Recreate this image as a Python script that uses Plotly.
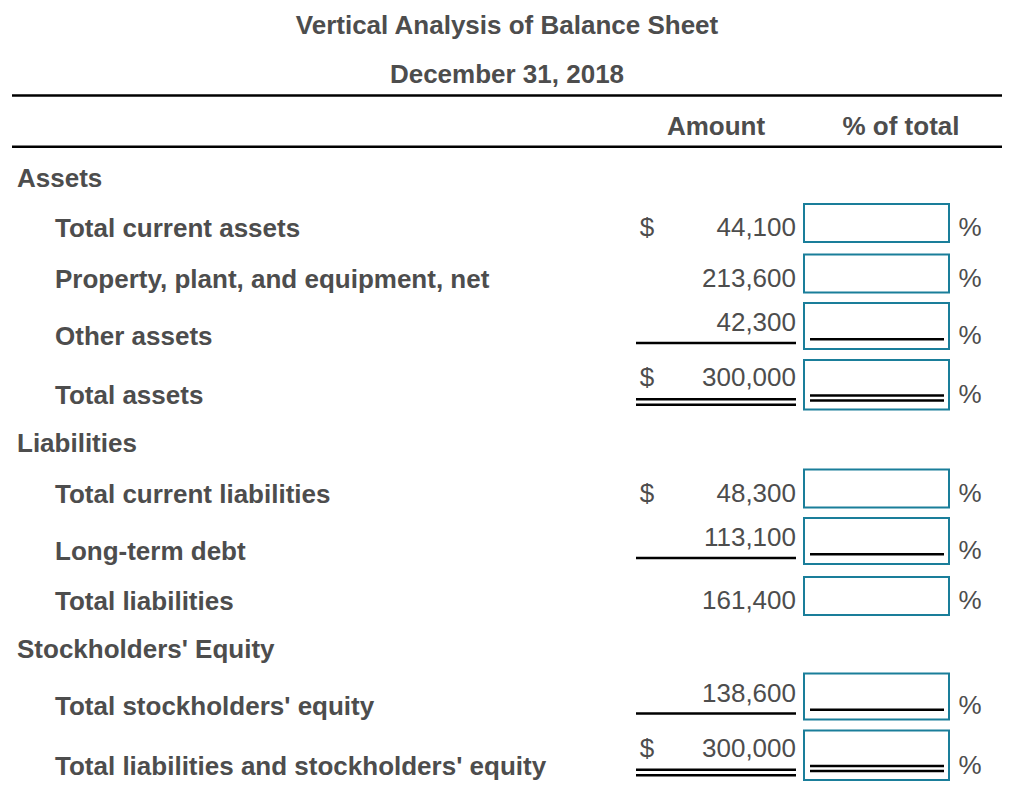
import plotly.graph_objects as go

# ---- data ----
title_lines = ["Vertical Analysis of Balance Sheet", "December 31, 2018"]
col_headers = ["Amount", "% of total"]

labels = [
    "Assets",
    "Total current assets",
    "Property, plant, and equipment, net",
    "Other assets",
    "Total assets",
    "Liabilities",
    "Total current liabilities",
    "Long-term debt",
    "Total liabilities",
    "Stockholders' Equity",
    "Total stockholders' equity",
    "Total liabilities and stockholders' equity",
]
amounts = [None, 44100, 213600, 42300, 300000, None, 48300, 113100, 161400, None, 138600, 300000]
dollar_sign = [False, True, False, False, True, False, True, False, False, False, False, True]
is_section = [True, False, False, False, False, True, False, False, False, True, False, False]
rules = ["", "", "", "single", "double", "", "", "single", "", "", "single", "double"]

# ---- layout / style ----
W, H = 1015, 811
FONT = "Liberation Sans, Arial, Helvetica, sans-serif"
INK = "#4d4d4d"
TEAL = "#1a7e9a"
FS = 26
TY = 2.5  # text baseline nudge

PITCH = {"section": 48, "": 50.5, "single": 57, "double": 59.5}
OFFS = {
    "": dict(amt=-1, box=(-24, 14), lines=[], inner=[]),
    "single": dict(amt=-13.5, box=(-32.5, 13.5), lines=[7.5], inner=[3.7]),
    "double": dict(amt=-18, box=(-35, 14.5), lines=[4.3, 9.8], inner=[0.5, 5.5]),
}

# row centres
ys = []
y = 177.5
for i in range(len(labels)):
    if i > 0:
        y += PITCH["section" if is_section[i] else rules[i]]
    ys.append(y)

fig = go.Figure()


def add_text(xs, yv, txt, pos, bold):
    fig.add_trace(go.Scatter(
        x=xs, y=[v + TY for v in yv], text=txt, mode="text", textposition=pos, cliponaxis=False,
        hoverinfo="skip", showlegend=False,
        textfont=dict(family=FONT, size=FS, color=INK, weight="bold" if bold else "normal"),
    ))


# title + headers
add_text([507, 507], [25, 73.7], title_lines, "middle center", True)
add_text([716, 901], [126, 126], col_headers, "middle center", True)

shapes = []
for yy in [95.5, 146.7]:
    shapes.append(dict(type="line", x0=12, x1=1002, y0=yy, y1=yy, line=dict(color="black", width=2.5)))

# labels
sec_y = [ys[i] for i in range(len(labels)) if is_section[i]]
sec_t = [labels[i] for i in range(len(labels)) if is_section[i]]
item_y = [ys[i] for i in range(len(labels)) if not is_section[i]]
item_t = [labels[i] for i in range(len(labels)) if not is_section[i]]
add_text([17] * len(sec_y), sec_y, sec_t, "middle right", True)
add_text([55] * len(item_y), item_y, item_t, "middle right", True)

amt_y, amt_t, dol_y, pct_y = [], [], [], []
for i, v in enumerate(amounts):
    if v is None:
        continue
    o = OFFS[rules[i]]
    ya = ys[i] + o["amt"]
    amt_y.append(ya)
    amt_t.append(f"{v:,}")
    if dollar_sign[i]:
        dol_y.append(ya)
    pct_y.append(ys[i] - 1)
    # input box
    shapes.append(dict(type="rect", x0=804, x1=949, y0=ys[i] + o["box"][0], y1=ys[i] + o["box"][1],
                       line=dict(color=TEAL, width=2), fillcolor="white", layer="below"))
    for d in o["lines"]:
        shapes.append(dict(type="line", x0=636, x1=796, y0=ys[i] + d, y1=ys[i] + d,
                           line=dict(color="black", width=2.5)))
    for d in o["inner"]:
        shapes.append(dict(type="line", x0=810, x1=944, y0=ys[i] + d, y1=ys[i] + d,
                           line=dict(color="black", width=2.5)))

add_text([796] * len(amt_y), amt_y, amt_t, "middle left", False)
add_text([647] * len(dol_y), dol_y, ["$"] * len(dol_y), "middle center", False)
add_text([970] * len(pct_y), pct_y, ["%"] * len(pct_y), "middle center", False)

fig.update_layout(
    width=W, height=H, margin=dict(l=0, r=0, t=0, b=0),
    paper_bgcolor="white", plot_bgcolor="white",
    xaxis=dict(range=[0, W], visible=False, fixedrange=True),
    yaxis=dict(range=[H, 0], visible=False, fixedrange=True),
    shapes=shapes, hovermode=False,
)

fig.write_html("out.html", config={"displayModeBar": False},
               post_script="document.body.style.margin='0';document.body.style.overflow='hidden';")
